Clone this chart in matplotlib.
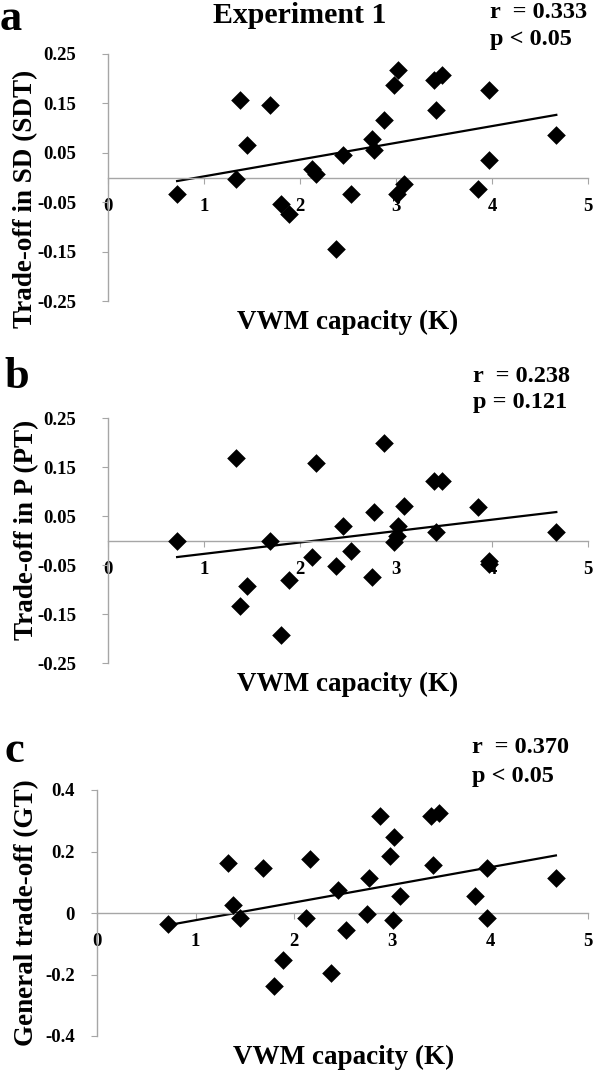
import matplotlib
matplotlib.use('Agg')
import matplotlib.pyplot as plt
import numpy as np

# ---------------- data ----------------
capacity = [0.72, 1.33, 1.38, 1.45, 1.69, 1.80, 1.89, 2.13, 2.17, 2.38, 2.45, 2.53, 2.75,
            2.77, 2.88, 2.98, 3.01, 3.02, 3.08, 3.40, 3.42, 3.48, 3.85, 3.97, 3.97, 4.67]

sd_tradeoff = [-0.034, -0.003, 0.157, 0.066, 0.147, -0.054, -0.074, 0.018, 0.007, -0.144,
               0.046, -0.034, 0.078, 0.056, 0.117, 0.188, -0.034, 0.218, -0.014, 0.198,
               0.136, 0.208, -0.024, 0.177, 0.036, 0.086]

p_tradeoff = [-0.001, 0.168, -0.134, -0.093, -0.001, -0.193, -0.080, -0.033, 0.159, -0.053,
              0.029, -0.021, -0.074, 0.058, 0.200, -0.004, 0.010, 0.030, 0.071, 0.121,
              0.018, 0.121, 0.069, -0.042, -0.048, 0.018]

general_tradeoff = [-0.035, 0.164, 0.027, -0.015, 0.145, -0.236, -0.154, -0.016, 0.175, -0.196,
                    0.076, -0.054, -0.004, 0.115, 0.316, 0.186, -0.024, 0.248, 0.055, 0.316,
                    0.155, 0.324, 0.055, 0.145, -0.015, 0.115]

x_ticks = [0, 1, 2, 3, 4, 5]
y_ticks_ab = [-0.25, -0.15, -0.05, 0.05, 0.15, 0.25]
y_ticklabels_ab = ['-0.25', '-0.15', '-0.05', '0.05', '0.15', '0.25']
y_ticks_c = [-0.4, -0.2, 0, 0.2, 0.4]
y_ticklabels_c = ['-0.4', '-0.2', '0', '0.2', '0.4']

ylabels = ['Trade-off in SD (SDT)', 'Trade-off in P (PT)', 'General trade-off (GT)']
r_texts = ['r  = 0.333', 'r  = 0.238', 'r  = 0.370']
p_texts = ['p < 0.05', 'p = 0.121', 'p < 0.05']
letters = ['a', 'b', 'c']
xlabel = 'VWM capacity (K)'
title = 'Experiment 1'

# ---------------- style ----------------
plt.rcParams['font.family'] = ['Liberation Serif', 'DejaVu Serif']
plt.rcParams['font.weight'] = 'bold'

W, H = 596, 1073
fig = plt.figure(figsize=(W / 100, H / 100), dpi=100)
GREY = '#a6a6a6'


def fx(px):
    return px / W


def fy(py):
    return 1 - py / H


def make_panel(left, right, top, bottom, y, ylim, yticks, yticklabels, ytick_pad):
    ax = fig.add_axes([fx(left), fy(bottom), fx(right - left), (bottom - top) / H])
    ax.set_xlim(0, 5)
    ax.set_ylim(*ylim)
    ax.scatter(capacity, y, marker='D', s=9.5 ** 2, color='black', zorder=3,
               linewidths=0, clip_on=False)
    xarr = np.array(capacity)
    m, b = np.polyfit(xarr, np.array(y), 1)
    xs = np.array([xarr.min(), xarr.max()])
    ax.plot(xs, m * xs + b, color='black', lw=1.6, zorder=2)
    for s in ['top', 'right']:
        ax.spines[s].set_visible(False)
    ax.spines['bottom'].set_position(('data', 0))
    for s in ['bottom', 'left']:
        ax.spines[s].set_color(GREY)
        ax.spines[s].set_linewidth(1.0)
    ax.set_xticks(x_ticks)
    ax.set_xticklabels([str(t) for t in x_ticks])
    ax.set_yticks(yticks)
    ax.set_yticklabels(yticklabels)
    ax.tick_params(axis='x', direction='out', length=4.5, width=0.8, color=GREY,
                   labelsize=13.5, pad=10)
    ax.tick_params(axis='y', direction='out', length=4, width=0.8, color=GREY,
                   labelsize=13.5, pad=ytick_pad)
    for lab in ax.get_xticklabels() + ax.get_yticklabels():
        lab.set_fontweight('bold')
    ax.patch.set_alpha(0)
    return ax


make_panel(108, 588, 54, 301, sd_tradeoff, (-0.25, 0.25), y_ticks_ab, y_ticklabels_ab, 19)
make_panel(108, 588, 418, 663, p_tradeoff, (-0.25, 0.25), y_ticks_ab, y_ticklabels_ab, 19)
make_panel(97.3, 588.3, 790, 1036, general_tradeoff, (-0.4, 0.4), y_ticks_c, y_ticklabels_c, 12)

# figure texts
fig.text(fx(299.5), fy(23), title, ha='center', va='baseline', fontsize=21.5, fontweight='bold')

letter_pos = [(0, 30), (4, 388), (4, 762)]
for (px, py), L in zip(letter_pos, letters):
    fig.text(fx(px), fy(py), L, ha='left', va='baseline', fontsize=32, fontweight='bold')

r_pos = [(490, 18), (473, 382), (472, 753)]
p_pos = [(490, 45), (473, 408), (472, 782)]
for (px, py), s in zip(r_pos, r_texts):
    fig.text(fx(px), fy(py), s, ha='left', va='baseline', fontsize=17.5, fontweight='bold')
for (px, py), s in zip(p_pos, p_texts):
    fig.text(fx(px), fy(py), s, ha='left', va='baseline', fontsize=17.5, fontweight='bold')

xlabel_pos = [(348, 322), (348, 684), (344, 1057)]
for (px, py) in xlabel_pos:
    fig.text(fx(px), fy(py), xlabel, ha='center', va='center', fontsize=19.5, fontweight='bold')

ylabel_pos = [(26, 199), (27, 530), (27, 913)]
for (px, py), lab in zip(ylabel_pos, ylabels):
    fig.text(fx(px), fy(py), lab, ha='center', va='center', rotation=90, fontsize=19.5,
             fontweight='bold')

fig.savefig('out.png', dpi=100)
